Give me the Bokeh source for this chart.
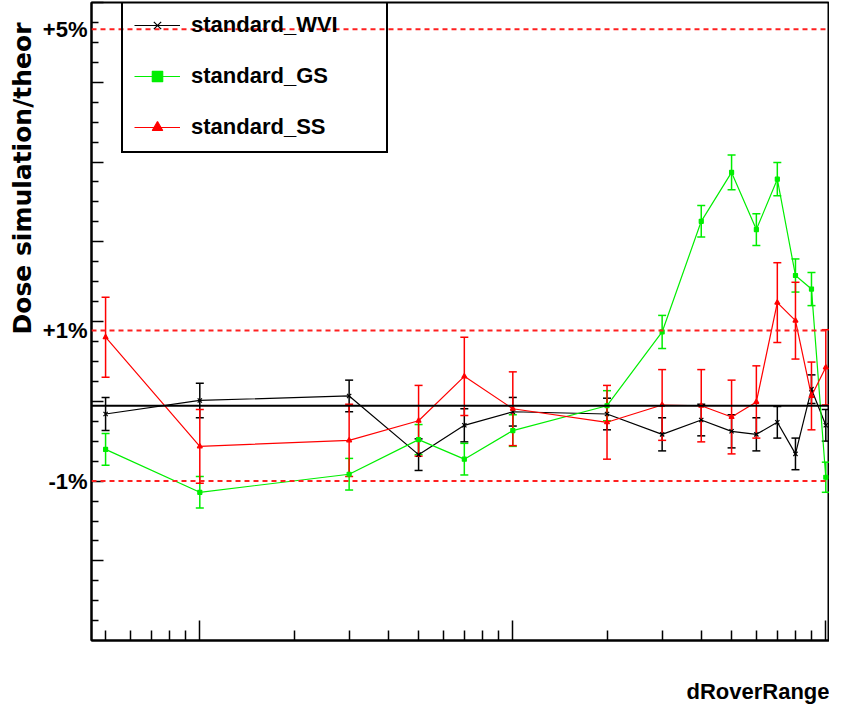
import numpy as np
from bokeh.plotting import figure
from bokeh.models import (Range1d, FixedTicker, Span, Whisker, TeeHead, Title, LinearAxis,
                          ColumnDataSource, Legend, LegendItem, CustomJSTickFormatter)
from bokeh.embed import file_html
from bokeh.resources import INLINE

# ---- data (deviation of Dose simulation/theory, in %) ----
dr = [0.005, 0.01, 0.03, 0.05, 0.07, 0.1, 0.2, 0.3, 0.4, 0.5, 0.6, 0.7, 0.8, 0.9, 1.0]
wvi = [-0.11, 0.07, 0.13, -0.65, -0.26, -0.08, -0.11, -0.38, -0.19, -0.34, -0.38, -0.22, -0.64, 0.22, -0.26]
wvi_err = [0.22, 0.23, 0.21, 0.21, 0.22, 0.19, 0.21, 0.22, 0.21, 0.22, 0.22, 0.21, 0.21, 0.19, 0.21]
gs = [-0.58, -1.15, -0.91, -0.45, -0.71, -0.33, 0.0, 0.98, 2.45, 3.10, 2.34, 3.01, 1.73, 1.55, -0.95]
gs_err = [0.21, 0.21, 0.21, 0.20, 0.21, 0.21, 0.20, 0.22, 0.21, 0.23, 0.21, 0.22, 0.22, 0.22, 0.20]
ss = [0.91, -0.54, -0.46, -0.20, 0.39, -0.04, -0.22, 0.01, 0.0, -0.15, 0.05, 1.37, 1.13, 0.13, 0.51]
ss_err = [0.53, 0.49, 0.48, 0.47, 0.52, 0.49, 0.49, 0.47, 0.48, 0.49, 0.48, 0.53, 0.51, 0.45, 0.50]

series_names = ["standard_WVI", "standard_GS", "standard_SS"]
ref_levels = [5, 1, -1]
x_major = [0.01, 0.1, 1.0]

FONT = "Liberation Sans"

p = figure(width=829, height=707, x_axis_type="log",
           x_range=Range1d(0.004508, 1.0276), y_range=Range1d(-3.119, 5.357),
           output_backend="svg", toolbar_location=None,
           min_border_left=91, min_border_right=0, min_border_top=2, min_border_bottom=67)
p.xgrid.visible = False
p.ygrid.visible = False
p.background_fill_color = "white"
p.border_fill_color = "white"
p.outline_line_color = "black"
p.outline_line_width = 2

# x axis (log) ticks, inward, labels blank (a space keeps some room below the axis)
x_minor = [k * 10.0 ** d for d in (-3, -2, -1) for k in range(2, 10)]
p.xaxis.ticker = FixedTicker(ticks=x_major, minor_ticks=x_minor)
p.xaxis.formatter = CustomJSTickFormatter(code="return ' ';")
p.xaxis.major_tick_in = 20
p.xaxis.major_tick_out = 0
p.xaxis.minor_tick_in = 10
p.xaxis.minor_tick_out = 0
p.xaxis.major_label_standoff = 20
p.xaxis.major_label_text_font_size = "10px"
p.xaxis.axis_line_width = 2
p.xaxis.major_tick_line_width = 1.5
p.xaxis.minor_tick_line_width = 1.5

# y axis ticks, inward, no labels
y_major = [5.357 - 1.0598 * k for k in range(9)]
y_minor = [m - 0.265 * j for m in y_major for j in range(1, 4)]
p.yaxis.ticker = FixedTicker(ticks=y_major, minor_ticks=y_minor)
p.yaxis.formatter = CustomJSTickFormatter(code="return '';")
p.yaxis.major_tick_in = 12
p.yaxis.major_tick_out = 0
p.yaxis.minor_tick_in = 7
p.yaxis.minor_tick_out = 0
p.yaxis.major_label_standoff = 0
p.yaxis.major_label_text_font_size = "10px"
p.yaxis.axis_line_width = 2
p.yaxis.major_tick_line_width = 1.5
p.yaxis.minor_tick_line_width = 1.5

# second left axis only for the percentage labels at the reference lines
pct_axis = LinearAxis(ticker=FixedTicker(ticks=ref_levels, minor_ticks=[]),
                      formatter=CustomJSTickFormatter(
                          code="return (tick > 0 ? '+' : '') + tick + '%';"),
                      axis_line_color=None, major_tick_line_color=None,
                      minor_tick_line_color=None, major_tick_in=0, major_tick_out=0,
                      minor_tick_in=0, minor_tick_out=0, major_label_standoff=4,
                      major_label_text_font=FONT, major_label_text_font_size="22px",
                      major_label_text_font_style="bold", major_label_text_color="black")
p.add_layout(pct_axis, "left")

# axis titles
p.add_layout(Title(text="Dose simulation/theor", align="right", offset=20,
                   vertical_align="top", standoff=2,
                   text_font="DejaVu Sans", text_font_size="25px", text_font_style="bold",
                   text_color="black"), "left")
p.add_layout(Title(text="dRoverRange", align="right", standoff=4,
                   text_font=FONT, text_font_size="22px", text_font_style="bold",
                   text_color="black"), "below")

# reference lines
p.add_layout(Span(location=0, dimension="width", line_color="black", line_width=2))
for lv in ref_levels:
    p.add_layout(Span(location=lv, dimension="width", line_color="#ff2020",
                      line_width=2, line_dash="5 4"))

colors = ["black", "#00ee00", "#ff0000"]
markers = ["x", "square", "triangle"]
msizes = [6, 4, 5]
ys = [wvi, gs, ss]
errs = [wvi_err, gs_err, ss_err]

items = []
for name, col, mk, ms, yv, ev in zip(series_names, colors, markers, msizes, ys, errs):
    yv = np.array(yv)
    ev = np.array(ev)
    src = ColumnDataSource(dict(x=dr, y=yv, lo=yv - ev, hi=yv + ev))
    w = Whisker(base="x", upper="hi", lower="lo", source=src, line_color=col, line_width=1.5,
                upper_head=TeeHead(size=8, line_color=col, line_width=1.5),
                lower_head=TeeHead(size=8, line_color=col, line_width=1.5))
    p.add_layout(w)
    ln = p.line("x", "y", source=src, line_color=col, line_width=1.2)
    sc = p.scatter("x", "y", source=src, marker=mk, size=ms, line_color=col,
                   fill_color=col, line_width=1.2)
    items.append(LegendItem(label=name, renderers=[ln, sc]))

legend = Legend(items=items, location=(30, 487),
                label_text_font=FONT, label_text_font_size="22px",
                label_text_font_style="bold", label_text_color="black",
                glyph_width=46, glyph_height=26, label_height=26, label_width=184,
                label_standoff=11, spacing=25, padding=11, margin=0,
                border_line_color="black", border_line_width=2, border_line_alpha=1.0,
                background_fill_alpha=0.0)
p.add_layout(legend)

open("out.html", "w").write(file_html(p, INLINE))
